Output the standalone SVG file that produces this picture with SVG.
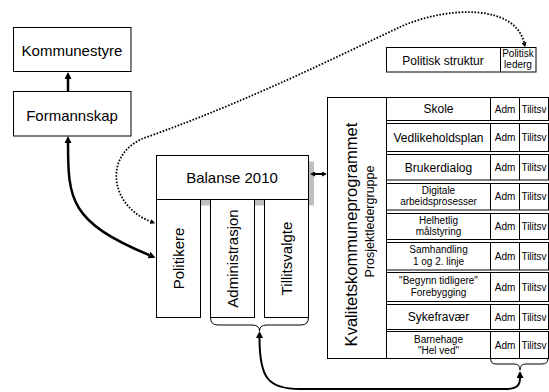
<svg xmlns="http://www.w3.org/2000/svg" width="549" height="392" viewBox="0 0 549 392">
<style>
text{font-family:"Liberation Sans",Arial,sans-serif;fill:#000;text-anchor:middle}
.box{fill:#fff;stroke:#000;stroke-width:1}
.big{font-size:15px}
.row{font-size:12px}
.sm{font-size:10px}
.thick{fill:none;stroke:#000;stroke-width:2.5}
.med{fill:none;stroke:#000;stroke-width:2}
.dot{fill:none;stroke:#000;stroke-width:1.8;stroke-dasharray:1.6 1.6}
.brace{fill:none;stroke:#000;stroke-width:1}
</style>
<defs>
<marker id="ah" viewBox="0 0 10 10" refX="0" refY="5" markerWidth="7" markerHeight="7" markerUnits="userSpaceOnUse" orient="auto-start-reverse"><path d="M0,0 L10,5 L0,10 z" fill="#000"/></marker>
<marker id="ahs" viewBox="0 0 10 10" refX="0" refY="5" markerWidth="5" markerHeight="5" markerUnits="userSpaceOnUse" orient="auto-start-reverse"><path d="M0,0 L10,5 L0,10 z" fill="#000"/></marker>
</defs>

<g id="kommunestyre">
<rect class="box" x="13.5" y="27.5" width="117.5" height="44"/>
<text class="big" x="72" y="56">Kommunestyre</text>
</g>
<g id="formannskap">
<rect class="box" x="13.5" y="91.5" width="117.5" height="44.5"/>
<text class="big" x="72" y="120.5">Formannskap</text>
</g>

<g id="politisk-struktur">
<rect class="box" x="386.5" y="47.5" width="149.5" height="24.5"/>
<line x1="500.5" y1="47.5" x2="500.5" y2="72" stroke="#000"/>
<text class="row" x="443" y="64.5">Politisk struktur</text>
<text class="sm" x="518" y="56.5">Politisk</text>
<text class="sm" x="518" y="68">lederg</text>
</g>

<g id="balanse">
<rect x="162" y="161.5" width="152" height="44" fill="#bfbfbf"/>
<rect class="box" x="156.5" y="155.5" width="152" height="44"/>
<text class="big" x="232" y="183">Balanse 2010</text>
</g>
<g id="politikere">
<rect class="box" x="156.5" y="199.5" width="44" height="118"/>
<text class="big" transform="translate(183.8,258.5) rotate(-90)">Politikere</text>
</g>
<g id="administrasjon">
<rect class="box" x="210.5" y="199.5" width="44" height="118"/>
<text class="big" transform="translate(237.8,258.5) rotate(-90)">Administrasjon</text>
</g>
<g id="tillitsvalgte">
<rect class="box" x="264.5" y="199.5" width="44" height="118"/>
<text class="big" transform="translate(291.8,258.5) rotate(-90)">Tillitsvalgte</text>
</g>

<g id="kvalitetskommuneprogrammet">
<rect class="box" x="327.5" y="97.5" width="59" height="261"/>
<text transform="translate(356.5,234.5) rotate(-90)" style="font-size:16.5px">Kvalitetskommuneprogrammet</text>
<text transform="translate(374,221.5) rotate(-90)" style="font-size:12.5px">Prosjektledergruppe</text>
</g>

<g id="row-skole">
<rect class="box" x="386.5" y="97.5" width="162" height="23"/>
<path d="M490.5,97.5V120.5M519.5,97.5V120.5" stroke="#000"/>
<text class="row" x="438.5" y="113.3">Skole</text>
<text class="sm" x="505" y="112.5">Adm</text><text class="sm" x="534" y="112.5">Tilitsv</text>
</g>
<g id="row-vedlikeholdsplan">
<rect class="box" x="386.5" y="123.5" width="162" height="28"/>
<path d="M490.5,123.5V151.5M519.5,123.5V151.5" stroke="#000"/>
<text class="row" x="438.5" y="141.8">Vedlikeholdsplan</text>
<text class="sm" x="505" y="141">Adm</text><text class="sm" x="534" y="141">Tilitsv</text>
</g>
<g id="row-brukerdialog">
<rect class="box" x="386.5" y="154.5" width="162" height="25.5"/>
<path d="M490.5,154.5V180M519.5,154.5V180" stroke="#000"/>
<text class="row" x="438.5" y="171.5">Brukerdialog</text>
<text class="sm" x="505" y="170.8">Adm</text><text class="sm" x="534" y="170.8">Tilitsv</text>
</g>
<g id="row-digitale">
<rect class="box" x="386.5" y="183.5" width="162" height="26.5"/>
<path d="M490.5,183.5V210M519.5,183.5V210" stroke="#000"/>
<text class="sm" x="438.5" y="194">Digitale</text>
<text class="sm" x="438.5" y="205">arbeidsprosesser</text>
<text class="sm" x="505" y="200.3">Adm</text><text class="sm" x="534" y="200.3">Tilitsv</text>
</g>
<g id="row-helhetlig">
<rect class="box" x="386.5" y="213.5" width="162" height="26"/>
<path d="M490.5,213.5V239.5M519.5,213.5V239.5" stroke="#000"/>
<text class="sm" x="438.5" y="223.5">Helhetlig</text>
<text class="sm" x="438.5" y="234.8">målstyring</text>
<text class="sm" x="505" y="230">Adm</text><text class="sm" x="534" y="230">Tilitsv</text>
</g>
<g id="row-samhandling">
<rect class="box" x="386.5" y="242.5" width="162" height="27.5"/>
<path d="M490.5,242.5V270M519.5,242.5V270" stroke="#000"/>
<text class="sm" x="438.5" y="253.3">Samhandling</text>
<text class="sm" x="438.5" y="264.5">1 og 2. linje</text>
<text class="sm" x="505" y="259.8">Adm</text><text class="sm" x="534" y="259.8">Tilitsv</text>
</g>
<g id="row-begynn">
<rect class="box" x="386.5" y="272.5" width="162" height="29"/>
<path d="M490.5,272.5V301.5M519.5,272.5V301.5" stroke="#000"/>
<text class="sm" x="438.5" y="284">"Begynn tidligere"</text>
<text class="sm" x="438.5" y="295.5">Forebygging</text>
<text class="sm" x="505" y="290.5">Adm</text><text class="sm" x="534" y="290.5">Tilitsv</text>
</g>
<g id="row-sykefravaer">
<rect class="box" x="386.5" y="304.5" width="162" height="25"/>
<path d="M490.5,304.5V329.5M519.5,304.5V329.5" stroke="#000"/>
<text class="row" x="438.5" y="321.3">Sykefravær</text>
<text class="sm" x="505" y="320.5">Adm</text><text class="sm" x="534" y="320.5">Tilitsv</text>
</g>
<g id="row-barnehage">
<rect class="box" x="386.5" y="331.5" width="162" height="27"/>
<path d="M490.5,331.5V358.5M519.5,331.5V358.5" stroke="#000"/>
<text class="sm" x="438.5" y="342.5">Barnehage</text>
<text class="sm" x="438.5" y="353.8">"Hel ved"</text>
<text class="sm" x="505" y="348.5">Adm</text><text class="sm" x="534" y="348.5">Tilitsv</text>
</g>

<g id="connectors">
<path class="brace" d="M210.5,317.5 Q210.5,325 218,325 L252,325 Q259.5,325 259.5,331 Q259.5,325 267,325 L301,325 Q308.5,325 308.5,317.5"/>
<path class="brace" d="M490.5,358.5 Q490.5,364 496,364 L514,364 Q520,364 520,370 Q520,364 526,364 L542,364 Q548,364 548,358.5"/>
<line class="thick" x1="68" y1="91.5" x2="68" y2="79" marker-end="url(#ah)"/>
<path class="thick" d="M68,143 C68,200 70,222 149,255" marker-start="url(#ah)" marker-end="url(#ah)"/>
<path class="dot" d="M524,42.5 C515,5 450,5 400,27 C330,60 250,100 150,136 C102,150 108,205 150.5,221.5" marker-start="url(#ahs)" marker-end="url(#ahs)"/>
<line class="med" x1="315" y1="174" x2="322" y2="174" marker-start="url(#ahs)" marker-end="url(#ahs)"/>
<path class="med" d="M259.5,338 C259.5,378 268,389 300,389 L505,389 C516,389 520,386 520,378" marker-start="url(#ah)" marker-end="url(#ah)"/>
</g>
</svg>
